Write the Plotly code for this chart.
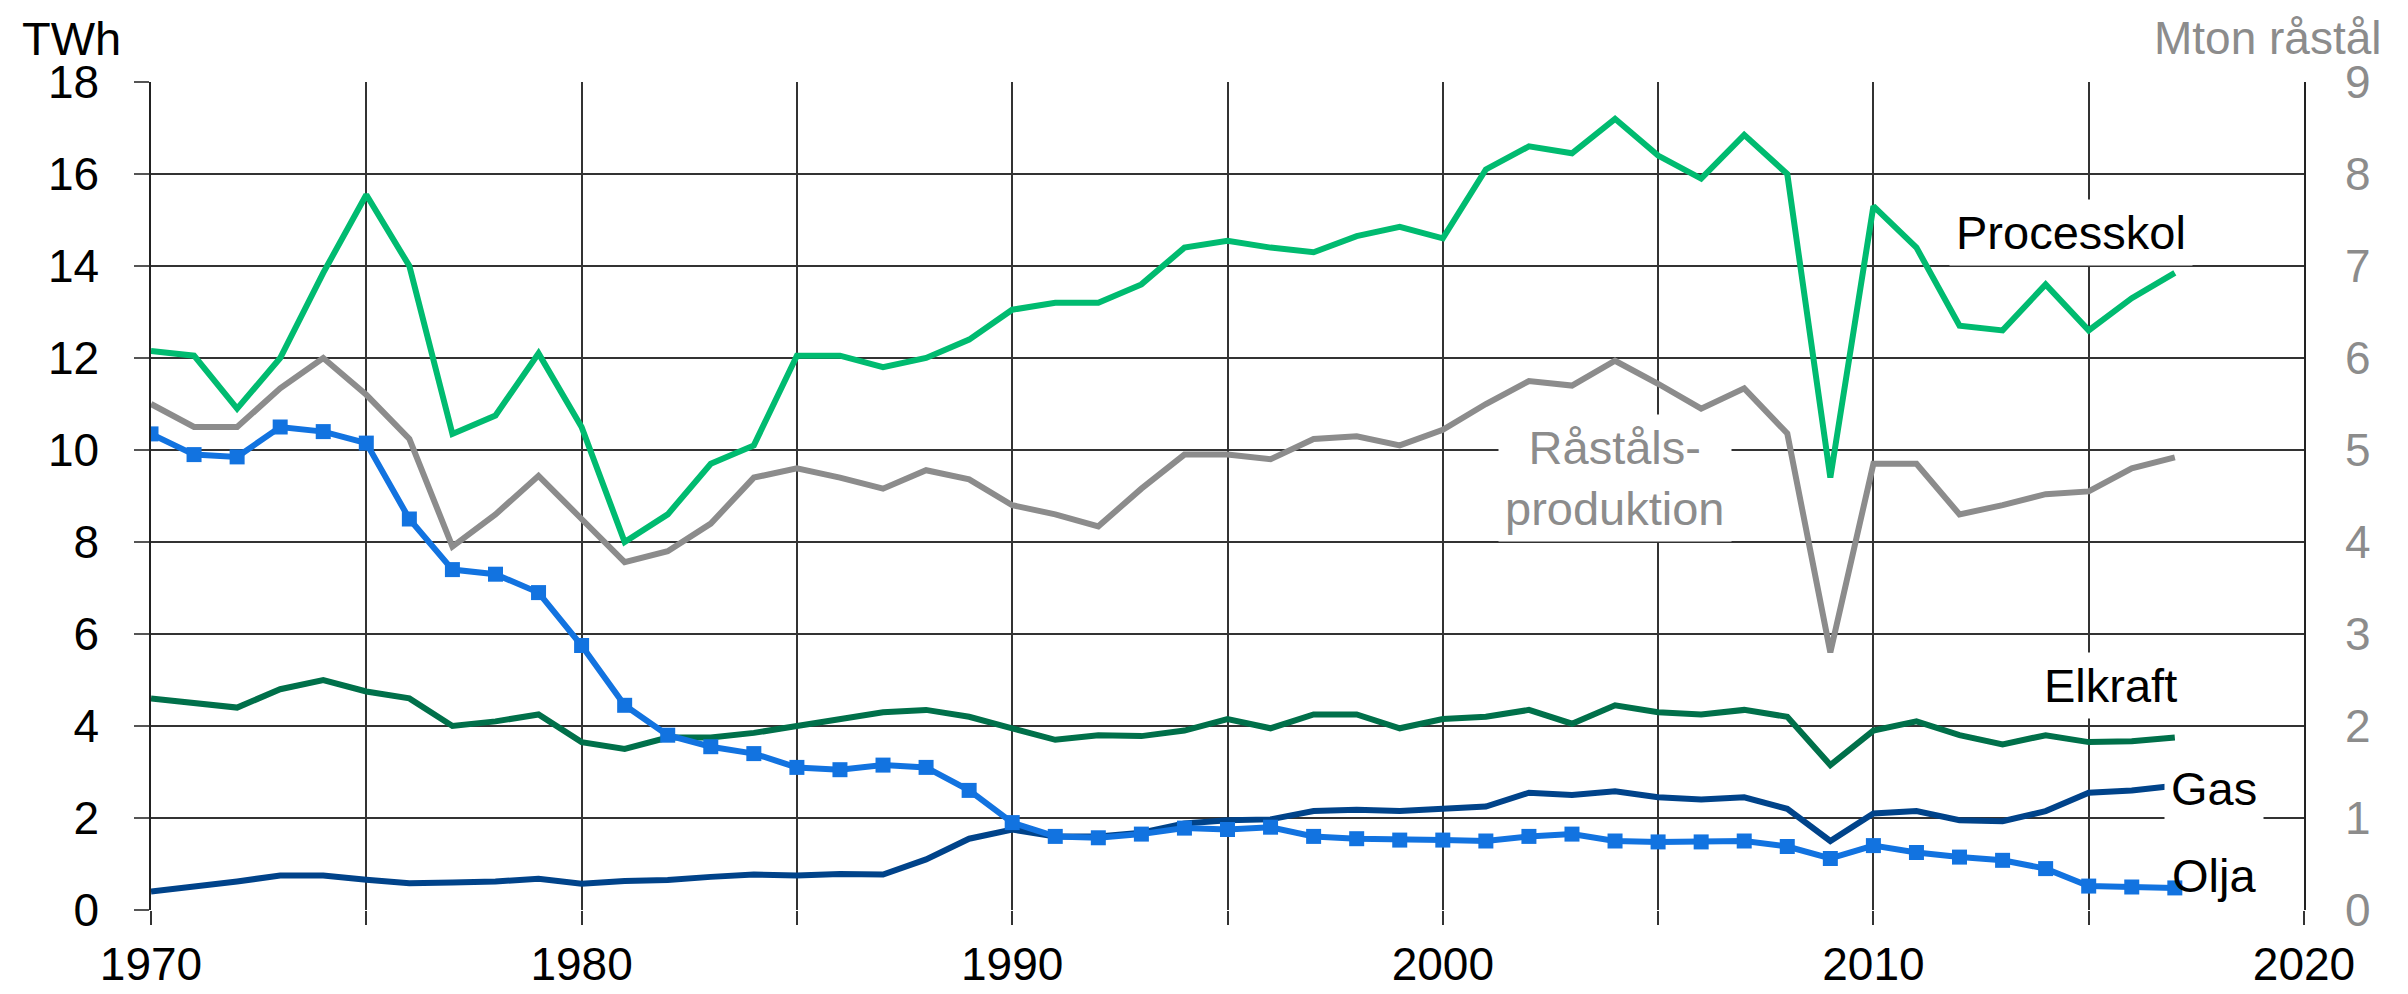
import plotly.graph_objects as go

# data
years = list(range(1970, 2018))

processkol = [12.15, 12.05, 10.9, 12.0, 13.85, 15.55, 14.0, 10.35, 10.75, 12.1,
              10.5, 8.0, 8.6, 9.7, 10.1, 12.05, 12.05, 11.8, 12.0, 12.4,
              13.05, 13.2, 13.2, 13.6, 14.4, 14.55, 14.4, 14.3, 14.65, 14.85,
              14.6, 16.1, 16.6, 16.45, 17.2, 16.4, 15.9, 16.85, 16.0, 9.4,
              15.3, 14.4, 12.7, 12.6, 13.6, 12.6, 13.3, 13.85]

# Mton råstål (right axis)
rastal = [5.5, 5.25, 5.25, 5.67, 6.0, 5.6, 5.12, 3.95, 4.3, 4.72,
          4.25, 3.78, 3.9, 4.2, 4.7, 4.8, 4.7, 4.58, 4.78, 4.68,
          4.4, 4.3, 4.17, 4.58, 4.95, 4.95, 4.9, 5.12, 5.15, 5.05,
          5.22, 5.5, 5.75, 5.7, 5.97, 5.72, 5.45, 5.67, 5.18, 2.8,
          4.85, 4.85, 4.3, 4.4, 4.52, 4.55, 4.8, 4.92]

elkraft = [4.6, 4.5, 4.4, 4.8, 5.0, 4.75, 4.6, 4.0, 4.1, 4.25,
           3.65, 3.5, 3.75, 3.75, 3.85, 4.0, 4.15, 4.3, 4.35, 4.2,
           3.95, 3.7, 3.8, 3.78, 3.9, 4.15, 3.95, 4.25, 4.25, 3.95,
           4.15, 4.2, 4.35, 4.05, 4.45, 4.3, 4.25, 4.35, 4.2, 3.15,
           3.9, 4.1, 3.8, 3.6, 3.8, 3.65, 3.67, 3.75]

gas = [0.4, 0.5, 0.62, 0.75, 0.75, 0.66, 0.58, 0.6, 0.62, 0.68,
       0.57, 0.63, 0.65, 0.72, 0.77, 0.75, 0.78, 0.77, 1.1, 1.55,
       1.75, 1.6, 1.6, 1.68, 1.88, 1.95, 1.97, 2.15, 2.18, 2.15,
       2.2, 2.25, 2.55, 2.5, 2.58, 2.45, 2.4, 2.45, 2.2, 1.5,
       2.1, 2.15, 1.95, 1.93, 2.15, 2.55, 2.6, 2.7]

olja = [10.35, 9.9, 9.85, 10.5, 10.4, 10.15, 8.5, 7.4, 7.3, 6.9,
        5.75, 4.45, 3.8, 3.55, 3.4, 3.1, 3.05, 3.15, 3.1, 2.6,
        1.9, 1.6, 1.57, 1.65, 1.78, 1.75, 1.8, 1.6, 1.55, 1.52,
        1.52, 1.5, 1.6, 1.65, 1.5, 1.48, 1.48, 1.5, 1.38, 1.12,
        1.4, 1.25, 1.15, 1.08, 0.9, 0.52, 0.5, 0.48]

x_ticks = list(range(1970, 2021, 5))
x_labels = [str(v) if v % 10 == 0 else '' for v in x_ticks]

FONT = 'Arial, Liberation Sans, sans-serif'
GRAY = '#8c8c8c'
GRID = '#333333'

fig = go.Figure()

fig.add_trace(go.Scatter(x=years, y=rastal, name='Råstålsproduktion', yaxis='y2',
                         mode='lines', line=dict(color=GRAY, width=6)))
fig.add_trace(go.Scatter(x=years, y=processkol, name='Processkol',
                         mode='lines', line=dict(color='#00bb70', width=6)))
fig.add_trace(go.Scatter(x=years, y=elkraft, name='Elkraft',
                         mode='lines', line=dict(color='#00704a', width=6)))
fig.add_trace(go.Scatter(x=years, y=gas, name='Gas',
                         mode='lines', line=dict(color='#00438a', width=6)))
fig.add_trace(go.Scatter(x=years, y=olja, name='Olja',
                         mode='lines+markers', line=dict(color='#1273e0', width=6),
                         marker=dict(symbol='square', size=15, color='#1273e0')))

# etiketter
labels = [
    (2014.6, 14.72, 'Processkol', 'black', 'white'),
    (2004.0, 9.4, 'Råståls-<br>produktion', GRAY, 'white'),
    (2015.5, 4.88, 'Elkraft', 'black', 'white'),
    (2017.9, 2.64, 'Gas', 'black', 'white'),
    (2017.9, 0.75, 'Olja', 'black', 'rgba(0,0,0,0)'),
]
for lx, ly, txt, col, bg in labels:
    fig.add_annotation(x=lx, y=ly, text=txt, showarrow=False, bgcolor=bg, borderpad=6,
                       font=dict(size=47, color=col, family=FONT))

fig.add_annotation(x=-0.0604, y=1.086, xref='paper', yref='paper', text='TWh',
                   showarrow=False, xanchor='left', yanchor='top', borderpad=0,
                   font=dict(size=47, color='black', family=FONT))
fig.add_annotation(x=1.0367, y=1.086, xref='paper', yref='paper', text='Mton råstål',
                   showarrow=False, xanchor='right', yanchor='top', borderpad=0,
                   font=dict(size=46, color=GRAY, family=FONT))

fig.update_layout(
    width=2408, height=994,
    margin=dict(l=143, r=112, t=74, b=71),
    plot_bgcolor='white', paper_bgcolor='white',
    showlegend=False,
    font=dict(family=FONT, size=46, color='black'),
    xaxis=dict(range=[1970, 2020], tickvals=x_ticks, ticktext=x_labels,
               showgrid=True, gridcolor=GRID, gridwidth=1.5,
               ticks='outside', ticklen=14, tickcolor=GRID, tickwidth=1.5,
               zeroline=False, showline=False),
    yaxis=dict(range=[0, 18], dtick=2, showgrid=True, gridcolor=GRID, gridwidth=1.5,
               ticks='outside', ticklen=15, tickcolor='#555', tickwidth=1.5,
               ticklabelstandoff=26,
               zeroline=False, showline=True, linecolor='#222', linewidth=1.5),
    yaxis2=dict(range=[0, 9], dtick=1, overlaying='y', side='right', showgrid=False,
                tickfont=dict(color=GRAY), ticks='', ticklabelstandoff=30,
                zeroline=False, showline=True, linecolor='#222', linewidth=1.5),
)

fig.write_html("out.html")
